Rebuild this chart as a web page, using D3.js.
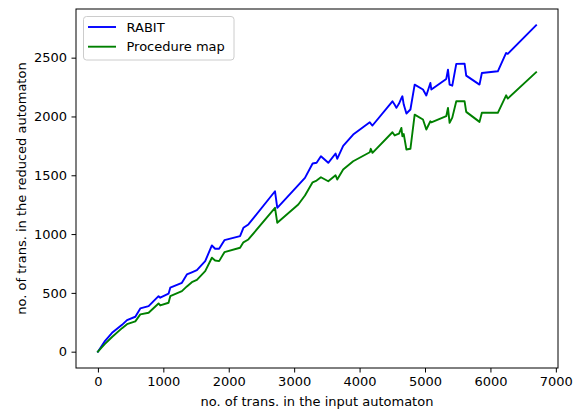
<!DOCTYPE html>
<html>
<head>
<meta charset="utf-8">
<script src="https://cdn.jsdelivr.net/npm/d3@7"></script>
<style>
  html, body { margin: 0; padding: 0; background: #fff; }
  svg { display: block; font-family: "DejaVu Sans", sans-serif; }
</style>
</head>
<body>
<svg id="chart" width="586" height="412"></svg>
<script>
const inputSizes = [0, 100, 216, 369, 445, 572, 648, 775, 927, 953, 1080, 1106, 1284, 1360, 1436, 1513, 1640, 1742, 1792, 1853, 1934, 2173, 2224, 2300, 2707, 2742, 3063, 3165, 3282, 3343, 3409, 3521, 3633, 3658, 3749, 3902, 4156, 4171, 4197, 4502, 4537, 4563, 4603, 4639, 4654, 4675, 4716, 4777, 4842, 4969, 5020, 5082, 5097, 5325, 5351, 5376, 5417, 5478, 5605, 5630, 5833, 5869, 6113, 6240, 6265, 6698];
const rabit = [0, 85, 160, 228, 268, 297, 368, 387, 472, 459, 493, 544, 586, 657, 675, 693, 770, 903, 875, 875, 948, 982, 1053, 1082, 1364, 1223, 1416, 1478, 1600, 1606, 1662, 1606, 1685, 1640, 1750, 1846, 1951, 1940, 1923, 2129, 2100, 2073, 2110, 2155, 2172, 2101, 2025, 2059, 2271, 2229, 2178, 2285, 2229, 2319, 2398, 2271, 2262, 2447, 2449, 2347, 2271, 2370, 2384, 2540, 2532, 2775];
const procMap = [0, 62, 125, 200, 234, 258, 317, 331, 410, 393, 416, 472, 515, 555, 591, 610, 685, 799, 775, 770, 846, 884, 930, 954, 1223, 1096, 1251, 1328, 1440, 1455, 1483, 1449, 1500, 1464, 1549, 1619, 1696, 1725, 1691, 1866, 1838, 1845, 1855, 1903, 1832, 1850, 1719, 1725, 2016, 1974, 1889, 1959, 1950, 2002, 2073, 1946, 1990, 2129, 2129, 2039, 1954, 2031, 2031, 2180, 2152, 2376];
const seriesNames = ["RABIT", "Procedure map"];
const seriesColors = ["#0000ff", "#008000"];
const xTicks = [0, 1000, 2000, 3000, 4000, 5000, 6000, 7000];
const yTicks = [0, 500, 1000, 1500, 2000, 2500];
const xLabel = "no. of trans. in the input automaton";
const yLabel = "no. of trans. in the reduced automaton";

const svg = d3.select("#chart");
const L = 76, R = 558, T = 9, B = 368;
const fs = 13;

const xMin = d3.min(inputSizes), xMax = d3.max(inputSizes);
const allY = rabit.concat(procMap);
const yMin = d3.min(allY), yMax = d3.max(allY);
const xPad = (xMax - xMin) * 0.05, yPad = (yMax - yMin) * 0.05;

const x = d3.scaleLinear().domain([xMin - xPad, xMax + xPad]).range([L, R]);
const y = d3.scaleLinear().domain([yMin - yPad, yMax + yPad]).range([B, T]);

const series = [rabit, procMap];
const line = d3.line().x(d => x(d[0])).y(d => y(d[1]));

series.forEach((vals, i) => {
  svg.append("path")
    .datum(inputSizes.map((v, j) => [v, vals[j]]))
    .attr("d", line)
    .attr("fill", "none")
    .attr("stroke", seriesColors[i])
    .attr("stroke-width", 1.9)
    .attr("stroke-linejoin", "round")
    .attr("stroke-linecap", "square");
});

// axes
const xAxis = d3.axisBottom(x).tickValues(xTicks).tickSize(4.5).tickPadding(4.5).tickFormat(d3.format("d"));
const yAxis = d3.axisLeft(y).tickValues(yTicks).tickSize(4.5).tickPadding(4.5).tickFormat(d3.format("d"));

const gx = svg.append("g").attr("transform", `translate(0,${B})`).call(xAxis);
const gy = svg.append("g").attr("transform", `translate(${L},0)`).call(yAxis);
[gx, gy].forEach(g => {
  g.select(".domain").remove();
  g.selectAll("line").attr("stroke", "#000").attr("stroke-width", 1);
  g.selectAll("text").attr("font-size", fs).attr("font-family", "DejaVu Sans").attr("fill", "#000");
});

// frame
svg.append("rect").attr("x", L).attr("y", T).attr("width", R - L).attr("height", B - T)
  .attr("fill", "none").attr("stroke", "#000").attr("stroke-width", 1);

// axis labels
svg.append("text").attr("x", (L + R) / 2).attr("y", 406).attr("text-anchor", "middle")
  .attr("font-size", fs).text(xLabel);
svg.append("text").attr("transform", `translate(26,${(T + B) / 2}) rotate(-90)`)
  .attr("text-anchor", "middle").attr("font-size", fs).text(yLabel);

// legend
const lg = svg.append("g");
lg.append("rect").attr("x", 83.5).attr("y", 16.5).attr("width", 150.5).attr("height", 43.5)
  .attr("rx", 3).attr("fill", "#fff").attr("fill-opacity", 0.8)
  .attr("stroke", "#cccccc").attr("stroke-width", 1);
seriesNames.forEach((name, i) => {
  const cy = 27 + i * 19.7;
  lg.append("line").attr("x1", 88).attr("x2", 116).attr("y1", cy).attr("y2", cy)
    .attr("stroke", seriesColors[i]).attr("stroke-width", 1.9);
  lg.append("text").attr("x", 126.5).attr("y", cy).attr("dy", "0.35em")
    .attr("font-size", fs).text(name);
});
</script>
</body>
</html>
